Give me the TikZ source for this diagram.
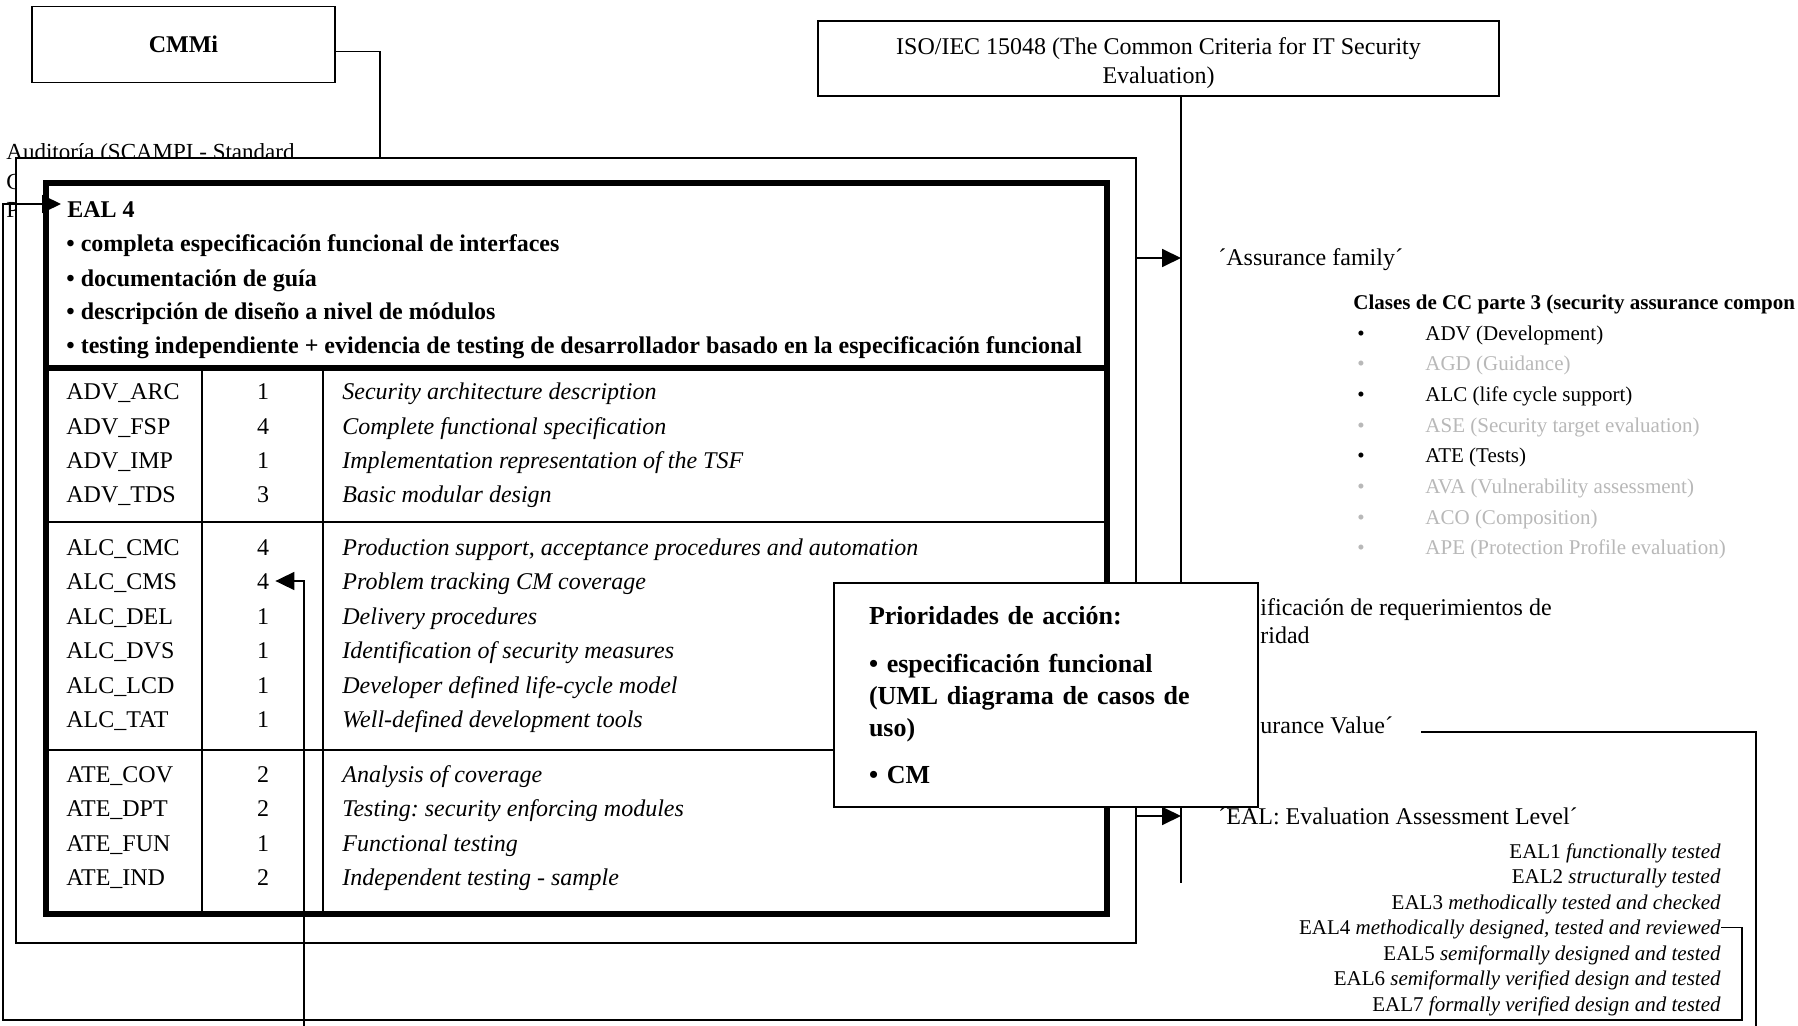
\documentclass[tikz,border=0pt]{standalone}
\usepackage{fontspec}
\setmainfont{Liberation Serif}
\frenchspacing
\usetikzlibrary{arrows.meta,positioning,calc}
\definecolor{faded}{gray}{0.72}

\begin{document}
\begin{tikzpicture}[x=0.5pt, y=-0.5pt,
    box/.style={draw, line width=0.8pt, fill=white, inner sep=0},
    conn/.style={line width=0.9pt},
    arr/.style={conn, -{Triangle[length=9.5pt,width=9pt]}},
    cell/.style={inner sep=0, text height=8pt, text depth=0pt, font=\fontsize{12}{14}\selectfont},
    cellb/.style={cell, font=\fontsize{12}{14}\selectfont\bfseries},
    small/.style={inner sep=0, text height=7pt, text depth=0pt, font=\fontsize{10.5}{12.6}\selectfont}
]
    \useasboundingbox (0,0) rectangle (1798,1026);

    % audit note, mostly hidden behind the boxes
    \foreach \y/\txt [count=\i] in {160/Auditoría (SCAMPI - Standard, 190/C, 218/P}
        \node[anchor=base west, inner sep=0, font=\fontsize{11.5}{14}\selectfont] (aud\i) at (6,\y) {\txt};

    % standards
    \node[box, minimum width=151.5pt, minimum height=38pt, font=\fontsize{12}{14}\selectfont\bfseries] (cmmi) at (183.5,44.5) {CMMi};
    \node[box, minimum width=340.5pt, minimum height=37.5pt] (iso) at (1158.5,58.5) {};
    \node[align=center, inner sep=0, font=\fontsize{12}{14.5}\selectfont] (isotxt) at (1158.5,63)
        {ISO/IEC 15048 (The Common Criteria for IT Security\\Evaluation)};

    % EAL 4 table
    \node[box, minimum width=560pt, minimum height=392.5pt] (outer) at (576,550.5) {};
    \node[draw, line width=3pt, minimum width=530.5pt, minimum height=365.5pt, inner sep=0] (eal) at (576.5,548.5) {};

    \node[cellb, anchor=west] (head) at (67,210) {EAL 4};
    \foreach \y/\txt [count=\i] in {244/completa especificación funcional de interfaces,
            279/documentación de guía, 312/descripción de diseño a nivel de módulos,
            346/testing independiente + evidencia de testing de desarrollador basado en la especificación funcional}
        \node[cellb, anchor=west] (goal\i) at (66,\y) {• \txt};

    \draw[line width=3pt] (46,368) -- (1107,368);
    \draw[line width=1.4pt] (46,522) -- (1107,522);
    \draw[line width=1.4pt] (46,750) -- (1107,750);
    \draw[line width=1.2pt] (202,368) -- (202,914);
    \draw[line width=1.2pt] (323,368) -- (323,914);

    \foreach \y/\code/\lvl/\desc [count=\i] in {
        392/ADV\_ARC/1/Security architecture description,
        426/ADV\_FSP/4/Complete functional specification,
        460/ADV\_IMP/1/Implementation representation of the TSF,
        494/ADV\_TDS/3/Basic modular design,
        547/ALC\_CMC/4/{Production support, acceptance procedures and automation},
        581/ALC\_CMS/4/Problem tracking CM coverage,
        616/ALC\_DEL/1/Delivery procedures,
        650/ALC\_DVS/1/Identification of security measures,
        685/ALC\_LCD/1/Developer defined life-cycle model,
        719/ALC\_TAT/1/Well-defined development tools,
        774/ATE\_COV/2/Analysis of coverage,
        808/ATE\_DPT/2/Testing: security enforcing modules,
        843/ATE\_FUN/1/Functional testing,
        877/ATE\_IND/2/Independent testing - sample}{
        \node[cell, anchor=west] (code\i) at (66,\y) {\code};
        \node[cell] (lvl\i) at (263,\y) {\lvl};
        \node[cell, anchor=west, font=\fontsize{12}{14}\selectfont\itshape] (desc\i) at (342,\y) {\desc};
    }

    % right hand notes
    \node[cell, anchor=west] (famtxt) at (1218,258) {´Assurance family´};
    \node[small, anchor=west, font=\fontsize{10.5}{12.6}\selectfont\bfseries] (cctitle) at (1353,303)
        {Clases de CC parte 3 (security assurance compon};
    \foreach \y/\txt/\col [count=\i] in {334/ADV (Development)/black, 364/AGD (Guidance)/faded,
            394/ALC (life cycle support)/black, 425/ASE (Security target evaluation)/faded,
            455/ATE (Tests)/black, 486/AVA (Vulnerability assessment)/faded,
            517/ACO (Composition)/faded, 547/APE (Protection Profile evaluation)/faded}{
        \node[small, anchor=west, text=\col] (clsdot\i) at (1357,\y) {•};
        \node[small, anchor=west, text=\col] (cls\i) at (1425,\y) {\txt};
    }
    \node[cell, anchor=west] (spec1) at (1260,607) {ificación de requerimientos de};
    \node[cell, anchor=west] (spec2) at (1260,635) {ridad};
    \node[cell, anchor=west] (valtxt) at (1260,725) {urance Value´};
    \node[cell, anchor=west] (ealtxt) at (1218,816) {´EAL: Evaluation Assessment Level´};

    \foreach \what [count=\lv] in {functionally tested, structurally tested, methodically tested and checked,
            {methodically designed, tested and reviewed}, semiformally designed and tested,
            semiformally verified design and tested, formally verified design and tested}
        \node[small, anchor=east] (ealitem\lv) at (1721,{851+(\lv-1)*25.5}) {EAL\lv\ \textit{\what}};

    % connectors
    \coordinate (cmmix) at (380,0);
    \coordinate (isofoot) at (1181,883);
    \coordinate (valfoot) at (1756,1040);
    \coordinate (cmsfoot) at (304,1040);

    \draw[conn] ([yshift=-3.5pt]cmmi.east) -| (outer.north -| cmmix);
    \draw[conn] (iso.south -| isofoot) -- (isofoot);
    \draw[arr] (outer.east |- famtxt.west) -- (isofoot |- famtxt.west);
    \draw[arr] (outer.east |- ealtxt.west) -- (isofoot |- ealtxt.west);
    \draw[conn] ([shift={(14pt,-3.5pt)}]valtxt.east) -| (valfoot);
    \draw[arr] (ealitem4.east) -- ++(21,0) |- (3,1020) |- ([shift={(-3pt,3pt)}]head.west);
    \draw[arr] (cmsfoot) |- ([xshift=3pt]lvl6.east);

    % priorities on top
    \node[box, minimum width=212pt, minimum height=112pt, text width=177pt, align=left, inner xsep=17.5pt,
          font=\fontsize{13}{16}\selectfont\bfseries] (prio) at (1046,695)
        {Prioridades de acción:\\[8pt] • especificación funcional\\ (UML diagrama de casos de\\ uso)\\[7.5pt] • CM};
\end{tikzpicture}
\end{document}
